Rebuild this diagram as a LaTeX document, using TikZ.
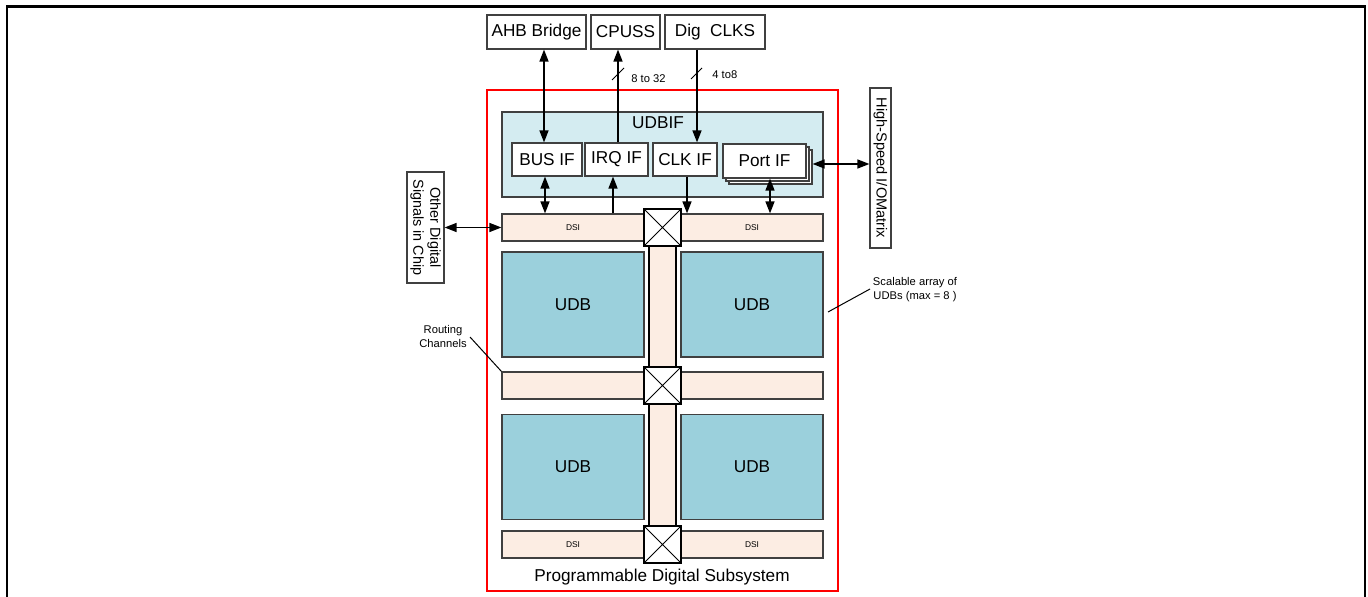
\documentclass[tikz,border=0pt]{standalone}
\usepackage{fontspec}
\setmainfont{Liberation Sans}
\usetikzlibrary{arrows.meta}
\definecolor{udbblue}{RGB}{155,208,220}
\definecolor{ifblue}{RGB}{212,236,241}
\definecolor{dsifill}{RGB}{252,237,227}
\definecolor{edge}{RGB}{64,64,64}
\begin{document}
\begin{tikzpicture}[x=0.5pt,y=-0.5pt,
  main/.style={font=\fontsize{8.6}{10}\selectfont},
  box/.style={draw=edge, line width=0.6pt, fill=white, inner sep=0pt, main},
  udb/.style={box, fill=udbblue, minimum width=71pt, minimum height=52.5pt},
  dsi/.style={box, fill=dsifill, minimum width=71pt, minimum height=13.5pt, font=\fontsize{4.2}{5}\selectfont},
  xbox/.style={draw=black, line width=0.6pt, fill=white, minimum size=18.5pt, inner sep=0pt,
    path picture={\draw[line width=0.5pt] (path picture bounding box.north west) -- (path picture bounding box.south east)
      (path picture bounding box.north east) -- (path picture bounding box.south west);}},
  arr/.style={line width=0.75pt, -{Triangle[length=6pt,width=4.5pt]}},
  darr/.style={line width=0.75pt, {Triangle[length=6pt,width=4.5pt]}-{Triangle[length=6pt,width=4.5pt]}},
  small/.style={font=\fontsize{5.6}{7}\selectfont, inner sep=0pt, align=center},
  lead/.style={line width=0.5pt},
]
\useasboundingbox (0,0) rectangle (1368,597);
% outer frame
\draw[line width=1.2pt] (7,597) -- (7,6.5) -- (1365,6.5) -- (1365,597);

% top boxes
\node[box, minimum width=49.5pt, minimum height=17pt] (ahb) at (536.5,32) {AHB Bridge};
\node[box, minimum width=34.5pt, minimum height=17pt] (cpuss) at (625.5,32) {CPUSS};
\node[box, minimum width=50pt, minimum height=17pt] (clks) at (715,32) {Dig\ \ CLKS};

% programmable digital subsystem frame
\node[draw=red, line width=0.75pt, minimum width=175.5pt, minimum height=250.5pt, inner sep=0pt] (pds) at (662.5,340.5) {};
\node[main, inner sep=0pt] (pdslabel) at (662,577) {Programmable Digital Subsystem};

% UDBIF
\node[box, fill=ifblue, minimum width=160.5pt, minimum height=42.5pt] (udbif) at (662.5,154.5) {};
\node[main, inner sep=0pt] (udbiflabel) at (658,123) {UDBIF};
\node[box, minimum width=35pt, minimum height=16.5pt] (busif) at (547,159.5) {BUS IF};
\node[box, minimum width=31.5pt, minimum height=16.5pt] (irqif) at (616.5,159.5) {IRQ IF};
\node[box, minimum width=32pt, minimum height=16.5pt] (clkif) at (685,159.5) {CLK IF};
\node[box, minimum width=41.5pt, minimum height=17pt] (port3) at (770.5,167) {};
\node[box, minimum width=41.5pt, minimum height=17pt] (port2) at (767.5,164) {};
\node[box, minimum width=41.5pt, minimum height=17pt] (port) at (764.5,161) {Port IF};

% vertical routing channel
\node[draw=black, line width=0.6pt, fill=dsifill, minimum width=13.5pt, minimum height=145pt, inner sep=0pt] (vch) at (662.5,386) {};

% DSI / routing rows
\node[dsi] (dsiL1) at (573,227.5) {DSI};
\node[dsi] (dsiR1) at (752,227.5) {DSI};
\node[dsi] (dsiL2) at (573,385.5) {};
\node[dsi] (dsiR2) at (752,385.5) {};
\node[dsi] (dsiL3) at (573,544.5) {DSI};
\node[dsi] (dsiR3) at (752,544.5) {DSI};

% UDBs
\node[udb] (udbTL) at (573,304.5) {UDB};
\node[udb] (udbTR) at (752,304.5) {UDB};
\node[udb] (udbBL) at (573,467) {UDB};
\node[udb] (udbBR) at (752,467) {UDB};

% cross boxes
\node[xbox] (x1) at (662.5,227.5) {};
\node[xbox] (x2) at (662.5,385.5) {};
\node[xbox] (x3) at (662.5,544.5) {};

% side boxes
\node[box, rotate=-90, minimum width=55.5pt, minimum height=18.5pt, align=center,
      font=\fontsize{7.2}{8.5}\selectfont] (odig) at (425.5,227.5) {Other Digital\\Signals in Chip};
\node[box, rotate=-90, minimum width=80pt, minimum height=10.5pt,
      font=\fontsize{7.3}{8}\selectfont] (hs) at (880.5,168) {High-Speed I/OMatrix};

% connectors
\coordinate (xa) at (544,0);
\coordinate (xb) at (618,0);
\coordinate (xc) at (697,0);
\coordinate (xd) at (545,0);
\coordinate (xe) at (613,0);
\coordinate (xf) at (687,0);
\coordinate (xg) at (770,0);
\draw[darr] (ahb.south -| xa) -- (busif.north -| xa);
\draw[arr] (irqif.north -| xb) -- (cpuss.south -| xb);
\draw[arr] (clks.south -| xc) -- (clkif.north -| xc);
\draw[darr] (busif.south -| xd) -- (dsiL1.north -| xd);
\draw[arr] (dsiL1.north -| xe) -- (irqif.south -| xe);
\draw[arr] (clkif.south -| xf) -- (dsiR1.north -| xf);
\draw[darr] (port.south -| xg) -- (dsiR1.north -| xg);
\draw[darr] (odig.north) -- (dsiL1.west);
\draw[darr] (port3.east |- port2.center) -- (hs.south |- port2.center);

% bus width marks
\coordinate (s1a) at (612,80); \coordinate (s1b) at (624,68);
\coordinate (s2a) at (691,79); \coordinate (s2b) at (702,68);
\draw[lead] (s1a) -- (s1b);
\draw[lead] (s2a) -- (s2b);
\node[small, anchor=west] (w1) at (631,79) {8 to 32};
\node[small, anchor=west] (w2) at (712,75) {4 to8};

% annotations
\node[small] (rclabel) at (443,336) {Routing\\Channels};
\coordinate (rcl) at (470,337);
\draw[lead] (rcl) -- (dsiL2.north west);
\node[small] (sclabel) at (915,290) {Scalable array of\\UDBs (max = 8 )};
\coordinate (scl1) at (828,312);
\coordinate (scl2) at (870,289);
\draw[lead] (scl1) -- (scl2);
\end{tikzpicture}
\end{document}
